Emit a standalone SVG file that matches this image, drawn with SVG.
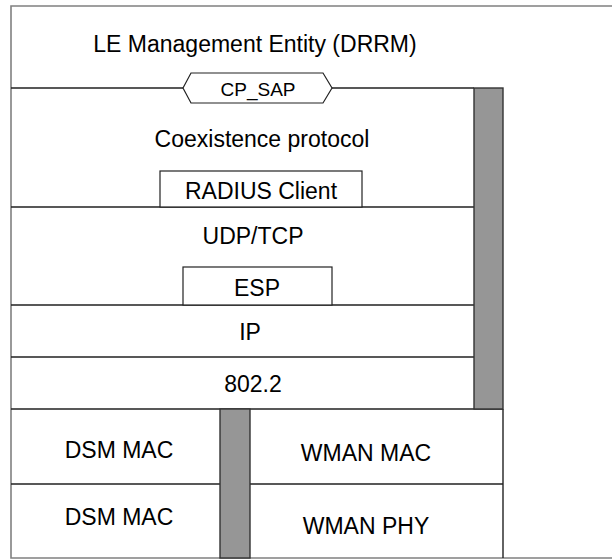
<svg xmlns="http://www.w3.org/2000/svg" width="612" height="559" viewBox="0 0 612 559">
<style>
.t{font-family:"Liberation Sans",Arial,sans-serif;font-size:23px;fill:#000;text-anchor:middle}
.s{font-family:"Liberation Sans",Arial,sans-serif;font-size:19px;fill:#000;text-anchor:middle}
.ln{stroke:#222;stroke-width:1.4;fill:none}
.fr{stroke:#808080;stroke-width:1.6;fill:none}
.box{fill:#fff;stroke:#222;stroke-width:1.2}
.bar{fill:#969696;stroke:#333;stroke-width:1.4}
</style>
<rect width="612" height="559" fill="#fff"/>
<g id="frame">
<path class="fr" d="M612,6 H11 V558 H612"/>
</g>
<g id="connectors">
<path class="ln" d="M11,88 H183 M332,88 H474"/>
<path class="ln" d="M11,207 H474 M11,305 H474 M11,357 H474 M11,409 H503"/>
<path class="ln" d="M503,409 V558"/>
<path class="ln" d="M11,484 H220 M250,484 H503"/>
</g>
<g id="bar-right"><rect class="bar" x="474" y="88" width="29" height="321"/></g>
<g id="bar-bottom"><rect class="bar" x="220" y="409" width="30" height="149"/></g>
<g id="le"><text class="t" x="255" y="52">LE Management Entity (DRRM)</text></g>
<g id="cpsap">
<polygon class="box" points="183,88 191,73 323,73 332,88 323,103 191,103"/>
<text class="s" x="258" y="96">CP_SAP</text>
</g>
<g id="coex"><text class="t" x="262" y="147">Coexistence protocol</text></g>
<g id="radius">
<rect class="box" x="160" y="171" width="202" height="36"/>
<text class="t" x="261" y="199">RADIUS Client</text>
</g>
<g id="udp"><text class="t" x="253" y="244">UDP/TCP</text></g>
<g id="esp">
<rect class="box" x="183" y="267" width="149" height="38"/>
<text class="t" x="257" y="296">ESP</text>
</g>
<g id="ip"><text class="t" x="250" y="340">IP</text></g>
<g id="l8022"><text class="t" x="253" y="392">802.2</text></g>
<g id="dsm1"><text class="t" x="119" y="458">DSM MAC</text></g>
<g id="dsm2"><text class="t" x="119" y="525">DSM MAC</text></g>
<g id="wmac"><text class="t" x="366" y="461">WMAN MAC</text></g>
<g id="wphy"><text class="t" x="366" y="534">WMAN PHY</text></g>
</svg>
